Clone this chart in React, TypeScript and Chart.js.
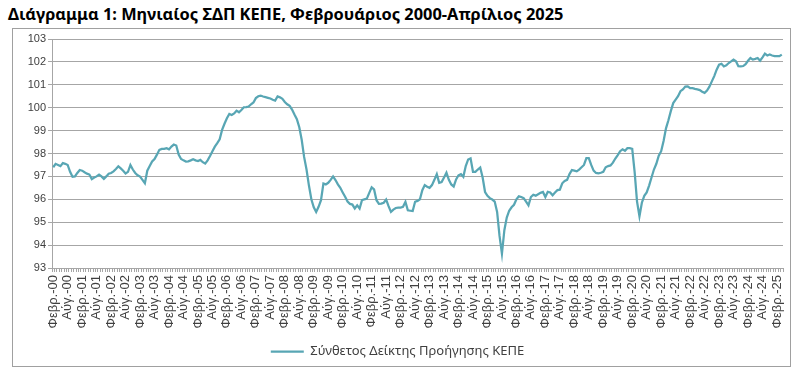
import React, { useEffect, useRef } from 'react';
import { Chart, registerables } from 'chart.js';

Chart.register(...registerables);

const TITLE = 'Διάγραμμα 1: Μηνιαίος ΣΔΠ ΚΕΠΕ, Φεβρουάριος 2000-Απρίλιος 2025';
const SERIES_LABEL = 'Σύνθετος Δείκτης Προήγησης ΚΕΠΕ';
const MONTH_NAMES = ['Ιαν.', 'Φεβρ.', 'Μαρ.', 'Απρ.', 'Μαΐ.', 'Ιούν.', 'Ιούλ.', 'Αύγ.', 'Σεπ.', 'Οκτ.', 'Νοέ.', 'Δεκ.'];
const START_YEAR = 2000;
const START_MONTH = 1; // February
const Y_MIN = 93;
const Y_MAX = 103;
const Y_STEP = 1;
const LABEL_EVERY = 6;

// Monthly values, by calendar year
const y2000 = [97.4, 97.55, 97.5, 97.45, 97.58, 97.55, 97.5, 97.2, 96.98, 97.0, 97.15];
const y2001 = [97.28, 97.25, 97.18, 97.12, 97.08, 96.88, 96.95, 97.0, 97.08, 97.0, 96.89, 97.0];
const y2002 = [97.12, 97.15, 97.22, 97.32, 97.44, 97.35, 97.25, 97.13, 97.2, 97.5, 97.3, 97.15];
const y2003 = [97.05, 96.99, 96.85, 96.7, 97.25, 97.45, 97.65, 97.76, 97.95, 98.16, 98.2, 98.2];
const y2004 = [98.23, 98.18, 98.3, 98.39, 98.35, 97.95, 97.76, 97.7, 97.65, 97.66, 97.7, 97.75];
const y2005 = [97.7, 97.67, 97.72, 97.62, 97.56, 97.7, 97.89, 98.1, 98.3, 98.45, 98.62, 99.03];
const y2006 = [99.3, 99.54, 99.73, 99.68, 99.75, 99.87, 99.8, 99.9, 100.02, 100.03, 100.05, 100.15];
const y2007 = [100.23, 100.42, 100.5, 100.53, 100.49, 100.46, 100.43, 100.4, 100.35, 100.31, 100.49, 100.45];
const y2008 = [100.39, 100.25, 100.15, 100.08, 99.92, 99.7, 99.5, 99.15, 98.6, 97.85, 97.3, 96.6];
const y2009 = [96.0, 95.65, 95.45, 95.67, 95.96, 96.69, 96.65, 96.72, 96.85, 97.0, 96.84, 96.65];
const y2010 = [96.5, 96.3, 96.11, 95.9, 95.8, 95.77, 95.6, 95.74, 95.6, 95.96, 96.0, 96.03];
const y2011 = [96.28, 96.52, 96.43, 95.96, 95.8, 95.81, 95.85, 95.99, 95.7, 95.45, 95.55, 95.62];
const y2012 = [95.64, 95.64, 95.67, 95.89, 95.52, 95.5, 95.49, 95.89, 95.93, 96.0, 96.4, 96.62];
const y2013 = [96.55, 96.5, 96.62, 96.85, 97.1, 96.72, 96.75, 96.95, 97.16, 96.85, 96.65, 96.56];
const y2014 = [96.87, 97.05, 97.1, 96.98, 97.45, 97.74, 97.79, 97.2, 97.2, 97.3, 97.39, 96.95];
const y2015 = [96.32, 96.15, 96.05, 95.99, 95.9, 95.45, 94.4, 93.62, 94.65, 95.2, 95.5, 95.65];
const y2016 = [95.76, 96.0, 96.13, 96.1, 96.05, 95.9, 95.74, 96.1, 96.2, 96.16, 96.22, 96.28];
const y2017 = [96.32, 96.1, 96.33, 96.3, 96.18, 96.3, 96.4, 96.42, 96.7, 96.8, 96.85, 97.1];
const y2018 = [97.28, 97.25, 97.22, 97.3, 97.4, 97.5, 97.8, 97.8, 97.5, 97.25, 97.15, 97.13];
const y2019 = [97.16, 97.2, 97.4, 97.45, 97.48, 97.6, 97.78, 97.93, 98.1, 98.18, 98.12, 98.23];
const y2020 = [98.23, 98.2, 97.2, 95.9, 95.26, 95.85, 96.15, 96.3, 96.6, 96.95, 97.3, 97.55];
const y2021 = [97.9, 98.1, 98.55, 99.1, 99.45, 99.85, 100.2, 100.35, 100.5, 100.72, 100.8, 100.92];
const y2022 = [100.93, 100.85, 100.85, 100.82, 100.8, 100.77, 100.7, 100.65, 100.75, 100.92, 101.15, 101.38];
const y2023 = [101.66, 101.88, 101.92, 101.8, 101.85, 101.95, 102.02, 102.1, 102.03, 101.81, 101.8, 101.82];
const y2024 = [101.9, 102.05, 102.17, 102.1, 102.13, 102.17, 102.05, 102.2, 102.36, 102.28, 102.32, 102.28];
const y2025 = [102.25, 102.25, 102.25, 102.32];

const values: number[] = [
  ...y2000, ...y2001, ...y2002, ...y2003, ...y2004, ...y2005, ...y2006, ...y2007, ...y2008,
  ...y2009, ...y2010, ...y2011, ...y2012, ...y2013, ...y2014, ...y2015, ...y2016, ...y2017,
  ...y2018, ...y2019, ...y2020, ...y2021, ...y2022, ...y2023, ...y2024, ...y2025,
];

const categories: string[] = values.map((_, i) => {
  const m = START_MONTH + i;
  const year = START_YEAR + Math.floor(m / 12);
  return `${MONTH_NAMES[m % 12]}-${String(year % 100).padStart(2, '0')}`;
});

const LINE_COLOR = '#58a6b4';
const GRID_COLOR = '#a6a6a6';
const TEXT_COLOR = '#404040';

export default function App() {
  const canvasRef = useRef<HTMLCanvasElement>(null);

  useEffect(() => {
    document.body.style.margin = '0';
    const canvas = canvasRef.current;
    if (!canvas) return;
    const chart = new Chart(canvas, {
      type: 'line',
      data: {
        labels: categories,
        datasets: [
          {
            label: SERIES_LABEL,
            data: values,
            borderColor: LINE_COLOR,
            backgroundColor: LINE_COLOR,
            borderWidth: 2.25,
            pointRadius: 0,
            pointHoverRadius: 0,
            tension: 0,
            pointStyle: 'line',
          },
        ],
      },
      options: {
        animation: false,
        responsive: false,
        maintainAspectRatio: false,
        layout: { padding: { left: 12, right: 21, top: 39, bottom: 10 } },
        plugins: {
          tooltip: { enabled: false },
          title: { display: false },
          legend: {
            position: 'bottom',
            labels: {
              usePointStyle: true,
              pointStyle: 'line',
              pointStyleWidth: 33,
              color: TEXT_COLOR,
              padding: 5,
              font: { family: '"Noto Sans", sans-serif', size: 13 },
            },
          },
        },
        scales: {
          x: {
            type: 'category',
            offset: true,
            grid: {
              display: true,
              drawOnChartArea: false,
              drawTicks: true,
              tickLength: 4,
              color: GRID_COLOR,
              offset: true,
            },
            border: { color: GRID_COLOR, width: 1 },
            ticks: {
              autoSkip: false,
              maxRotation: 90,
              minRotation: 90,
              padding: 3,
              color: TEXT_COLOR,
              font: { family: '"Liberation Sans", Arial, sans-serif', size: 13 },
              callback: function (this: any, v: any, i: number) {
                return i % LABEL_EVERY === 0 ? this.getLabelForValue(v) : '';
              },
            },
            afterFit: (s: any) => {
              s.height = 72;
            },
          },
          y: {
            min: Y_MIN,
            max: Y_MAX,
            ticks: {
              stepSize: Y_STEP,
              padding: 2,
              color: TEXT_COLOR,
              font: { family: '"Liberation Sans", Arial, sans-serif', size: 11 },
            },
            grid: { color: GRID_COLOR, tickLength: 4, lineWidth: 1 },
            border: { color: GRID_COLOR, width: 1 },
            afterFit: (s: any) => {
              s.width = 40;
            },
          },
        },
      },
    });
    return () => chart.destroy();
  }, []);

  return (
    <div style={{ position: 'fixed', left: 0, top: 0, width: 804, height: 378, background: '#fff' }}>
      <div
        style={{
          position: 'absolute',
          left: 12,
          top: 28,
          width: 779,
          height: 339,
          border: '1px solid #a0a0a0',
          boxSizing: 'border-box',
        }}
      />
      <div
        style={{
          position: 'absolute',
          left: 8,
          top: 4,
          fontFamily: '"Noto Sans", sans-serif',
          fontWeight: 700,
          fontSize: 16.4,
          lineHeight: '20px',
          color: '#000',
          whiteSpace: 'nowrap',
        }}
      >
        {TITLE}
      </div>
      <canvas
        ref={canvasRef}
        width={804}
        height={378}
        style={{ position: 'absolute', left: 0, top: 0, width: 804, height: 378, display: 'block' }}
      />
    </div>
  );
}
